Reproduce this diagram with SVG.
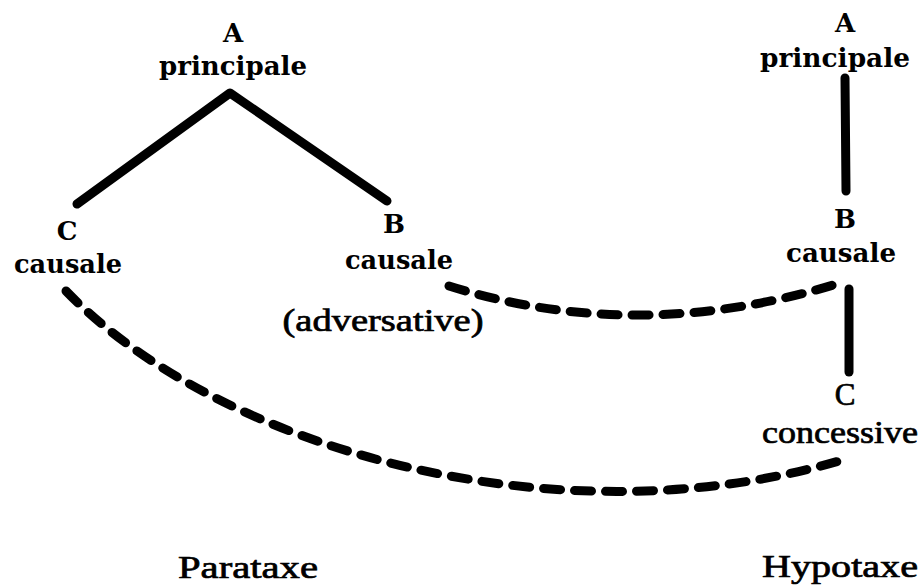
<svg xmlns="http://www.w3.org/2000/svg" width="920" height="587" viewBox="0 0 920 587">
<style>
.b{font-family:"DejaVu Serif","Liberation Serif",serif;font-weight:bold;font-size:26px;fill:#000;text-anchor:middle}
.n{font-family:"Liberation Serif","DejaVu Serif",serif;font-size:31px;fill:#000;stroke:#000;stroke-width:0.7;text-anchor:middle}
.solid{fill:none;stroke:#000;stroke-width:9;stroke-linecap:round;stroke-linejoin:round}
.dash{fill:none;stroke:#000;stroke-width:9;stroke-linecap:round;stroke-dasharray:17 14}
</style>
<rect width="920" height="587" fill="#fff"/>
<g id="connectors">
<path class="solid" d="M77,204 L230,93 L387,201"/>
<path class="solid" d="M845,78 L846,191"/>
<path class="solid" d="M849,289 L849,372"/>
<path class="dash" d="M449,286 Q640,346 843,282"/>
<path class="dash" d="M66,291 C220,450 560,545 846,459"/>
</g>
<g id="p-A"><text class="b" x="233" y="42">A</text><text class="b" x="233" y="75" textLength="148" lengthAdjust="spacingAndGlyphs">principale</text></g>
<g id="p-C"><text class="b" x="67" y="240">C</text><text class="b" x="68" y="273" textLength="108" lengthAdjust="spacingAndGlyphs">causale</text></g>
<g id="p-B"><text class="b" x="394" y="233">B</text><text class="b" x="399" y="269" textLength="108" lengthAdjust="spacingAndGlyphs">causale</text><text class="n" x="383" y="331" textLength="201" lengthAdjust="spacingAndGlyphs">(adversative)</text></g>
<g id="h-A"><text class="b" x="845" y="32">A</text><text class="b" x="835" y="67" textLength="150" lengthAdjust="spacingAndGlyphs">principale</text></g>
<g id="h-B"><text class="b" x="845" y="228">B</text><text class="b" x="841" y="262" textLength="110" lengthAdjust="spacingAndGlyphs">causale</text></g>
<g id="h-C"><text class="n" x="845" y="405">C</text><text class="n" x="840" y="443" textLength="156" lengthAdjust="spacingAndGlyphs">concessive</text></g>
<g id="label-para"><text class="n" x="248" y="578" textLength="140" lengthAdjust="spacingAndGlyphs">Parataxe</text></g>
<g id="label-hypo"><text class="n" x="840" y="577" textLength="156" lengthAdjust="spacingAndGlyphs">Hypotaxe</text></g>
</svg>
